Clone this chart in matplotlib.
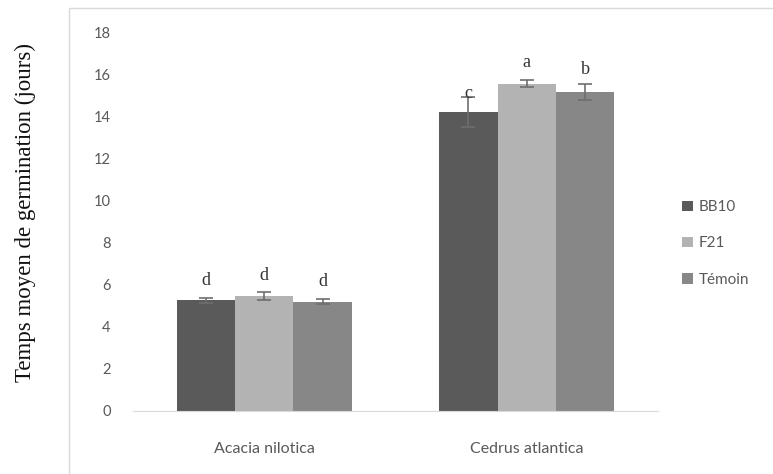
import matplotlib.pyplot as plt
import numpy as np
from matplotlib.patches import Rectangle

species = ['Acacia nilotica', 'Cedrus atlantica']
treatments = ['BB10', 'F21', 'Témoin']
colors = ['#5a5a5a', '#b3b3b3', '#878787']

# mean germination time (days) per treatment, one value per species
means = {'BB10': [5.25, 14.2], 'F21': [5.45, 15.55], 'Témoin': [5.2, 15.15]}
errs = {'BB10': [0.1, 0.7], 'F21': [0.2, 0.15], 'Témoin': [0.1, 0.4]}
letters = {'BB10': ['d', 'c'], 'F21': ['d', 'a'], 'Témoin': ['d', 'b']}
letter_gap = {'BB10': [0.85, 0.2], 'F21': [0.8, 0.85], 'Témoin': [0.85, 0.65]}

fig = plt.figure(figsize=(7.73, 4.74), dpi=100)
# light frame of the chart area (only left/top visible)
fig.patches.append(Rectangle((69 / 773, -0.1), 1.0, 1 - 8 / 474 + 0.1,
                             transform=fig.transFigure, fill=False,
                             edgecolor='#d9d9d9', linewidth=1.0))
ax = fig.add_axes([133 / 773, 1 - 411 / 474, (658 - 133) / 773, (411 - 32) / 474])

x = np.arange(len(species))
w = 0.222
for i, t in enumerate(treatments):
    pos = x + (i - 1) * w
    ax.bar(pos, means[t], w, color=colors[i], label=t, zorder=2)
    ax.errorbar(pos, means[t], yerr=errs[t], fmt='none', ecolor='#6e6e6e',
                elinewidth=1.2, capsize=5, capthick=1.2, zorder=3)
    for j in range(len(species)):
        ax.text(pos[j], means[t][j] + errs[t][j] + letter_gap[t][j], letters[t][j],
                ha='center', va='center', family='Liberation Serif', fontsize=13,
                color='#333333', zorder=4)

ax.set_xlim(-0.5, 1.5)
ax.set_ylim(0, 18)
ax.set_yticks(range(0, 19, 2))
ax.set_xticks(x)
ax.set_xticklabels(species)
for s in ['top', 'right', 'left']:
    ax.spines[s].set_visible(False)
ax.spines['bottom'].set_color('#d9d9d9')
ax.tick_params(axis='y', length=0, labelsize=10.5, labelcolor='#595959', pad=16)
ax.tick_params(axis='x', length=0, labelsize=11.5, labelcolor='#595959', pad=22)
for lab in ax.get_xticklabels() + ax.get_yticklabels():
    lab.set_family('Lato')

fig.text(25 / 773, 1 - 212 / 474, 'Temps moyen de germination (jours)', rotation=90,
         ha='center', va='center', family='Liberation Serif', fontsize=16.5, color='#111111')

leg = ax.legend(loc='center left', bbox_to_anchor=(1.02, 0.442), frameon=False,
                handlelength=0.7, handleheight=0.7, handletextpad=0.4,
                labelspacing=1.45, prop={'family': 'Lato', 'size': 11})
for txt in leg.get_texts():
    txt.set_color('#595959')

fig.savefig('out.png', dpi=100)
